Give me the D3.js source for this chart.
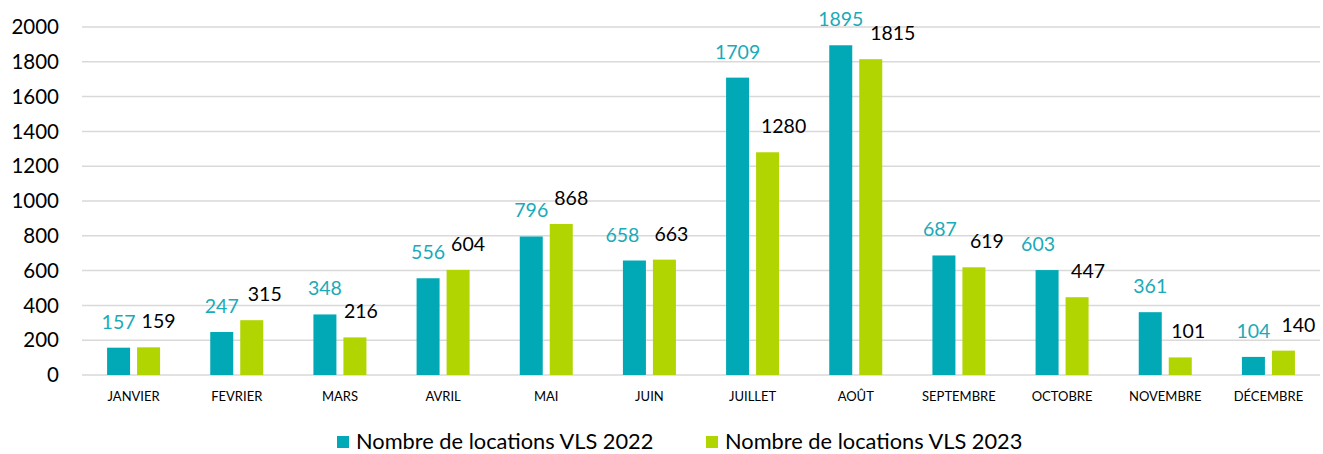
<!DOCTYPE html>
<html><head><meta charset="utf-8">
<script src="https://cdn.jsdelivr.net/npm/d3@7"></script>
<style>body{margin:0;background:#fff}svg{display:block}text{font-family:Lato,"Open Sans",sans-serif}</style>
</head><body><svg id="c" width="1323" height="454"></svg>
<script>
const categories = ["JANVIER","FEVRIER","MARS","AVRIL","MAI","JUIN","JUILLET","AOÛT","SEPTEMBRE","OCTOBRE","NOVEMBRE","DÉCEMBRE"];
const values2022 = [157,247,348,556,796,658,1709,1895,687,603,361,104];
const values2023 = [159,315,216,604,868,663,1280,1815,619,447,101,140];
const seriesNames = ["Nombre de locations VLS 2022","Nombre de locations VLS 2023"];
const yTicks = [0,200,400,600,800,1000,1200,1400,1600,1800,2000];
// horizontal nudges of the value labels (layout only, as placed in the reference)
const labelShift2022 = [0,0,0,0,0,-12,0,0,-4,-9,0,0];
const labelShift2023 = [10,13,6,10,10,7,16,22,13,11,8,15];

(function(){
const colors = ["#00A9B5","#B0D500"];
const labelColors = ["#1AAAB8","#000000"];
const svg = d3.select("#c");
const pLeft = 82, pRight = 1320, pTop = 27, pBottom = 375;

const x = d3.scaleBand().domain(categories).range([pLeft, pRight]);
const y = d3.scaleLinear().domain([0,2000]).range([pBottom, pTop]);
const barW = 23, gap = 7;

svg.append("g").selectAll("line").data(yTicks).join("line")
  .attr("x1", pLeft).attr("x2", pRight)
  .attr("y1", d => y(d)).attr("y2", d => y(d))
  .attr("stroke", "#d9d9d9").attr("stroke-width", 1.5);

svg.append("g").selectAll("text").data(yTicks).join("text")
  .attr("x", 59).attr("y", d => y(d)).attr("dy", "0.35em")
  .attr("text-anchor", "end").attr("font-size", 20.5).attr("fill", "#000")
  .text(d => d);

const series = [values2022, values2023];
const shifts = [labelShift2022, labelShift2023];
series.forEach((vals, si) => {
  const off = si === 0 ? -(gap/2 + barW) : gap/2;
  const g = svg.append("g");
  g.selectAll("rect").data(vals).join("rect")
    .attr("x", (d,i) => x(categories[i]) + x.bandwidth()/2 + off)
    .attr("y", d => y(d)).attr("width", barW).attr("height", d => y(0) - y(d))
    .attr("fill", colors[si]);
  g.selectAll("text").data(vals).join("text")
    .attr("x", (d,i) => x(categories[i]) + x.bandwidth()/2 + off + barW/2 + shifts[si][i])
    .attr("y", d => y(d) - 19)
    .attr("text-anchor", "middle").attr("font-size", 19.5).attr("fill", labelColors[si])
    .text(d => d);
});

svg.append("g").selectAll("text").data(categories).join("text")
  .attr("x", d => x(d) + x.bandwidth()/2).attr("y", 401)
  .attr("text-anchor", "middle").attr("font-size", 13).attr("fill", "#000")
  .text(d => d);

const legX = [337, 706];
const lg = svg.append("g").selectAll("g").data(seriesNames).join("g");
lg.append("rect").attr("x", (d,i) => legX[i]).attr("y", 436).attr("width", 12).attr("height", 12)
  .attr("fill", (d,i) => colors[i]);
lg.append("text").attr("x", (d,i) => legX[i] + 19).attr("y", 449)
  .attr("font-size", 21.8).attr("fill", "#000").text(d => d);
})();
</script></body></html>
